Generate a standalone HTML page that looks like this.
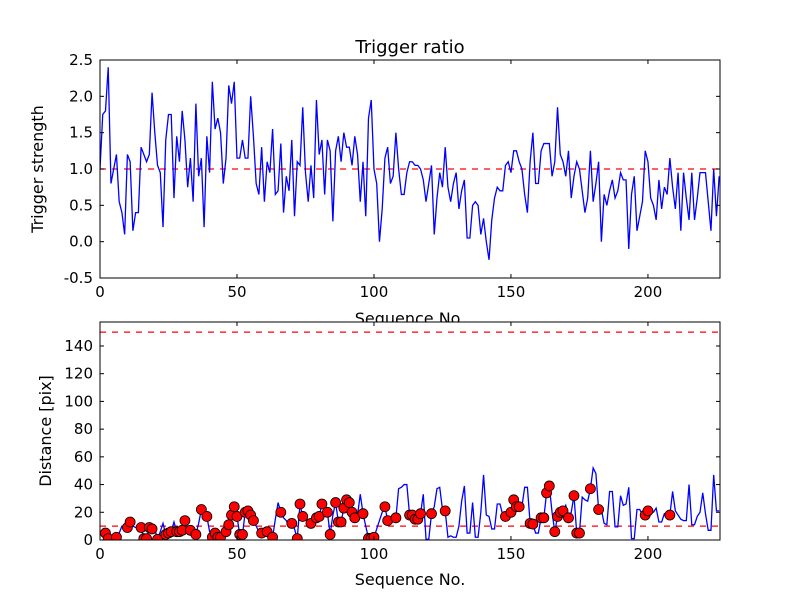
<!DOCTYPE html>
<html><head><meta charset="utf-8"><style>
body{margin:0;background:#fff;}
svg{display:block;font-family:"DejaVu Sans","Liberation Sans",sans-serif;}
</style></head><body>
<svg id="c" width="800" height="600"></svg>
<script>
const ratioValues=[1.0,1.75,1.8,2.4,0.8,1.0,1.2,0.55,0.4,0.1,1.2,1.1,0.15,0.4,0.4,1.3,1.2,1.1,1.2,2.05,1.5,1.05,0.95,0.2,1.4,1.75,1.75,0.6,1.45,1.1,1.8,1.4,0.75,1.15,0.55,1.9,0.9,1.15,0.2,1.45,0.95,2.2,1.55,1.7,1.5,0.8,1.15,2.15,1.9,2.2,1.15,1.15,1.4,1.15,1.15,2.0,1.45,
0.8,0.65,1.3,0.55,1.1,0.95,1.55,0.65,0.7,1.35,0.4,0.9,0.7,1.4,0.35,1.1,1.05,1.85,0.95,0.55,1.05,0.6,1.95,1.2,1.4,0.65,1.4,1.25,0.28,1.25,1.45,1.1,1.5,1.3,1.3,1.05,1.45,1.2,0.55,1.1,0.35,1.7,1.95,1.0,0.8,0.0,0.45,1.15,1.3,0.8,0.9,1.5,1.0,0.65,0.65,0.95,1.1,
1.1,1.05,1.05,1.0,0.85,0.55,0.8,1.05,0.1,0.6,0.95,0.75,1.3,0.75,0.55,0.8,0.95,0.45,0.7,0.85,0.05,0.05,0.5,0.55,0.5,0.1,0.32,0,-0.25,0.3,0.6,0.75,0.7,0.7,1.05,1.1,0.95,1.25,1.25,1.1,1.0,0.65,0.4,1.1,1.5,0.8,0.8,1.25,1.35,1.35,1.35,0.9,1.1,1.85,
1.2,1.1,0.9,1.25,0.6,0.9,1.1,1.0,0.7,0.4,0.6,1.25,0.55,0.8,1.1,0.0,0.65,0.5,0.7,0.85,0.6,0.7,0.95,0.85,0.85,-0.1,0.65,0.9,0.15,0.35,0.55,1.25,1.1,0.6,0.5,0.3,0.85,0.45,0.75,0.65,1.15,0.75,0.45,0.95,0.15,0.95,0.6,0.3,0.95,0.3,0.6,0.95,0.95,0.95,0.55,0.15,1.0,0.35,0.9];
const distValues=[6,3,5,1,2,2,2,5,10,10,9,13,10,9,9,9,1,1,9,8,8,0.5,6,12,4,5,6,13,6,6,7,14,9,7,7,4,12,22,18,17,6,2,5,2,2,4,6,11,18,24,17,4,4,20,21,18,14,10,6,5,6,6,5,2,15,27,20,16,14,10,12,8,1,26,17,15,12,12,16,16,17,26,21,20,4,18,27,13,13,23,29,27,20,16,18,33,19,10,1.2,1.2,2,8,14,20,24,14,15,16,16,37,38,40,40,18,18,15,15,19,33,0.5,0.5,19,24,37,38,22,21,2,3,2,2,10,28,39,5,5,27,2,2,20,47,18,17,8,8,26,26,18,17,19,20,29,24,24,24,38,38,12,11.5,5,5,16,16,34,39,20,6,17,20,21,25,16,20,32,5,5,31,29,28,37,52,48,22,22,12,11,35,35,9.5,9.5,32,25,26,38,1,1,22,22,18,18,21,20,20,23,13,13,19,18,18,35,21,18,15,14,14,40,11,11,17,20,34,19,7,7,47,21,21];
const markedIdx=[2,3,6,10,11,15,16,17,18,19,21,24,25,26,28,29,30,31,33,35,37,39,41,42,43,44,46,47,48,49,50,51,52,53,54,55,56,59,61,63,66,70,72,73,74,77,79,80,81,83,84,86,87,88,89,90,91,92,93,96,98,99,100,104,105,108,113,114,115,116,117,121,126,148,150,151,152,153,157,158,161,162,163,164,166,167,168,169,171,173,174,175,179,182,199,200,208];
const xTicks=[0,50,100,150,200];
const topYTicks=[-0.5,0.0,0.5,1.0,1.5,2.0,2.5];
const botYTicks=[0,20,40,60,80,100,120,140];
const topThreshold=[1.0];
const botThresholds=[10,150];

const NS='http://www.w3.org/2000/svg';
const svg=document.getElementById('c');
function el(tag,attrs,parent){const e=document.createElementNS(NS,tag);for(const k in attrs)e.setAttribute(k,attrs[k]);(parent||svg).appendChild(e);return e;}
const L=100,R=720,XMAX=226.3;
const xs=v=>L+v/XMAX*(R-L);
function axes(name,top,bot,ymin,ymax,yt,fmt,ylabel,ylx){
  const ys=v=>bot-(v-ymin)/(ymax-ymin)*(bot-top);
  const g=el('g',{});
  
  
  const cp='clip-'+name;
  const d=el('defs',{},g);const c=el('clipPath',{id:cp},d);el('rect',{x:L,y:top,width:R-L,height:bot-top},c);
  return {g,ys,top,bot,cp,finish(){
    el('rect',{x:L,y:top,width:R-L,height:bot-top,fill:'none',stroke:'#000','stroke-width':1},g);
    xTicks.forEach(t=>{const x=xs(t);
      el('line',{x1:x,x2:x,y1:bot,y2:bot-4,stroke:'#000'},g);
      el('line',{x1:x,x2:x,y1:top,y2:top+4,stroke:'#000'},g);
      const tx=el('text',{x:x,y:bot+19,'font-size':15,'text-anchor':'middle'},g);tx.textContent=t;
      
      });
    yt.forEach(t=>{const y=ys(t);
      el('line',{x1:L,x2:L+4,y1:y,y2:y,stroke:'#000'},g);
      el('line',{x1:R,x2:R-4,y1:y,y2:y,stroke:'#000'},g);
      const tx=el('text',{x:L-7,y:y+5,'font-size':15,'text-anchor':'end'},g);tx.textContent=fmt(t);
      
      });
    const yl=el('text',{x:ylx,y:(top+bot)/2,'font-size':16,'text-anchor':'middle',transform:`rotate(-90 ${ylx} ${(top+bot)/2})`},g);yl.textContent=ylabel;
    
    
  }};
}
const A=axes('trigger-axes',60,278,-0.5,2.5,topYTicks,t=>t.toFixed(1),'Trigger strength',43);
const t1=el('text',{x:410,y:53,'font-size':18,'text-anchor':'middle'});t1.textContent='Trigger ratio';


const xl1=el('text',{x:410,y:324,'font-size':16,'text-anchor':'middle'});xl1.textContent='Sequence No.';


topThreshold.forEach(v=>{const l=el('line',{x1:L,x2:R,y1:A.ys(v),y2:A.ys(v),stroke:'#f00','stroke-dasharray':'6,6','stroke-width':1.2},A.g);
  
  });
const p1=el('polyline',{points:ratioValues.map((v,i)=>xs(i)+','+A.ys(v)).join(' '),fill:'none',stroke:'#00f','stroke-width':1.3,'clip-path':`url(#${A.cp})`},A.g);


const B=axes('distance-axes',322,540,0,157.3,botYTicks,t=>t,'Distance [pix]',51);
el('rect',{x:L,y:322,width:R-L,height:218,fill:'#fff'},B.g);
botThresholds.forEach(v=>{const l=el('line',{x1:L,x2:R,y1:B.ys(v),y2:B.ys(v),stroke:'#f00','stroke-dasharray':'6,6','stroke-width':1.2},B.g);
  
  });
const p2=el('polyline',{points:distValues.map((v,i)=>xs(i)+','+B.ys(v)).join(' '),fill:'none',stroke:'#00f','stroke-width':1.3,'clip-path':`url(#${B.cp})`},B.g);


markedIdx.forEach(i=>{const c=el('circle',{cx:xs(i),cy:B.ys(distValues[i]),r:5,fill:'#f00',stroke:'#000','stroke-width':0.8,'clip-path':`url(#${B.cp})`},B.g);
  
  });
A.finish();B.finish();
const xl2=el('text',{x:410,y:585,'font-size':16,'text-anchor':'middle'});xl2.textContent='Sequence No.';


</script>
</body></html>
